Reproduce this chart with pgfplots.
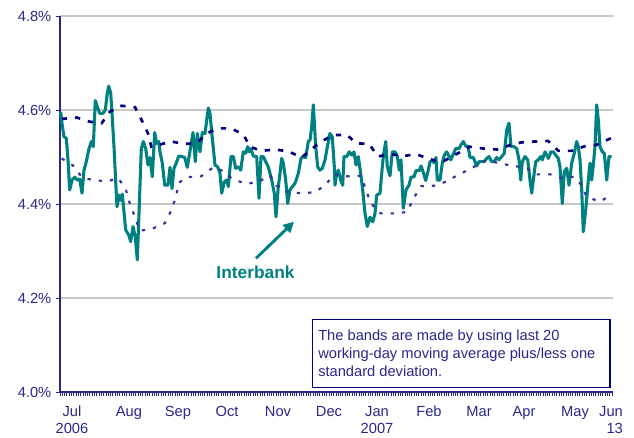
\documentclass[border=0pt]{standalone}
\usepackage{fontspec}
\setmainfont{Liberation Sans}
\usepackage{pgfplots}
\pgfplotsset{compat=1.18}
\usetikzlibrary{arrows.meta}
\definecolor{teal1}{RGB}{0,128,128}
\definecolor{navy1}{RGB}{0,0,128}
\definecolor{band2}{RGB}{51,51,153}
\definecolor{txt}{RGB}{40,40,140}
\definecolor{gridgray}{RGB}{200,200,200}
\newcommand{\mlab}[1]{\begin{tabular}{@{}c@{}}#1\end{tabular}}
\begin{document}
\begin{tikzpicture}
\path[use as bounding box] (-45pt,-33.75pt) rectangle (430.5pt,294pt);
\begin{axis}[
  scale only axis, width=414.75pt, height=282pt,
  xmin=0, xmax=553, ymin=4.0, ymax=4.8,
  clip=false,
  axis x line=bottom, axis y line=left,
  axis line style={txt, line width=1pt, -},
  tick align=outside,
  ytick={4.0,4.2,4.4,4.6,4.8},
  yticklabels={4.0\%,4.2\%,4.4\%,4.6\%,4.8\%},
  ymajorgrids, grid style={gridgray, line width=1.1pt},
  major tick length=3pt,
  tick style={txt, line width=0.7pt},
  y tick label style={font=\fontsize{11}{13}\selectfont, color=txt},
  xtick={0,2.3,...,553},
  xticklabels={},
  extra x ticks={12,69,118,167,218,269,317,369,419,464,515,551},
  extra x tick labels={\mlab{Jul\\[0pt]2006},\mlab{Aug},\mlab{Sep},\mlab{Oct},\mlab{Nov},\mlab{Dec},\mlab{Jan\\[0pt]2007},\mlab{Feb},\mlab{Mar},\mlab{Apr},\mlab{May},{\begin{tabular}{@{}r@{}}Jun\\[0pt]13\end{tabular}}},
  extra x tick style={major tick length=0pt, grid=none,
     tick label style={font=\fontsize{11}{13}\selectfont, color=txt, yshift=-5.5pt}},
]
\addplot[teal1, line width=2.3pt, line join=round] coordinates {
(0.7,4.596)(2,4.572)(4,4.543)(6.3,4.540)(8,4.494)(9.7,4.430)(12,4.451)(14.7,4.457)(17.3,4.451)(19.7,4.453)(22,4.423)(24,4.472)(26.3,4.490)(28.7,4.515)(31.3,4.533)(33.3,4.522)(35.3,4.620)(37.3,4.607)(39.7,4.593)(43,4.593)(45.3,4.600)(47.3,4.636)(48.7,4.651)(50.7,4.636)(52,4.593)(54,4.522)(55.3,4.465)(57,4.394)(59,4.419)(60.7,4.408)(62.3,4.421)(65.7,4.345)(68.7,4.334)(70.7,4.320)(73,4.352)(75.3,4.330)(77.3,4.281)(79,4.380)(81.3,4.518)(83.3,4.533)(85.7,4.518)(88,4.483)(90,4.499)(92.3,4.458)(94.7,4.552)(96.7,4.529)(98.7,4.533)(100,4.511)(102.3,4.487)(104.7,4.440)(108,4.440)(110,4.478)(112,4.433)(114,4.476)(116.3,4.487)(118.7,4.502)(122,4.501)(124.7,4.499)(127.3,4.478)(130.7,4.522)(133,4.552)(135.3,4.490)(137.3,4.550)(140,4.511)(142.3,4.552)(145,4.550)(148.3,4.604)(150,4.593)(152.3,4.540)(155,4.483)(157.7,4.479)(160,4.465)(161.7,4.423)(164.3,4.447)(166.7,4.451)(168.3,4.437)(171,4.501)(173.3,4.501)(175.7,4.476)(178.3,4.479)(180.7,4.472)(183.3,4.511)(185.7,4.508)(187.7,4.522)(189.3,4.511)(191,4.518)(193.3,4.502)(196.7,4.501)(199,4.412)(201,4.501)(203.3,4.501)(205.7,4.490)(208.3,4.479)(211.7,4.451)(214.3,4.423)(216,4.373)(218.3,4.437)(220,4.465)(221.7,4.497)(223.3,4.487)(225.7,4.451)(227.7,4.401)(230,4.430)(232.3,4.437)(235,4.444)(238.3,4.465)(241,4.497)(243.3,4.501)(245.7,4.499)(248.3,4.533)(250,4.536)(251.7,4.564)(253.3,4.611)(255.7,4.522)(257.7,4.479)(260,4.472)(262.3,4.476)(265,4.494)(267.7,4.526)(270,4.550)(272.3,4.543)(274.3,4.479)(275,4.440)(276.7,4.465)(278.3,4.472)(280.7,4.451)(282.7,4.440)(284,4.501)(286.7,4.501)(289.3,4.511)(291.7,4.504)(294,4.511)(296,4.483)(298.3,4.501)(300.7,4.465)(302.7,4.430)(305,4.380)(307.3,4.352)(310,4.372)(312.7,4.362)(315,4.380)(316.7,4.419)(320,4.423)(321.7,4.465)(323.3,4.501)(325.7,4.533)(327.3,4.479)(330,4.460)(332.3,4.511)(335,4.511)(337.3,4.502)(339.3,4.472)(341,4.494)(343.3,4.391)(346,4.430)(349,4.440)(351,4.457)(354,4.458)(356,4.471)(359.3,4.471)(361,4.481)(363.3,4.467)(365.7,4.450)(368.3,4.472)(370,4.490)(372.3,4.492)(374,4.488)(376,4.499)(377.3,4.451)(380,4.451)(382.3,4.487)(384.3,4.504)(386.7,4.511)(389,4.502)(390.7,4.494)(393.3,4.506)(395.7,4.518)(399,4.518)(401,4.526)(403.3,4.533)(405.7,4.523)(408,4.523)(410,4.499)(413.3,4.499)(416.7,4.481)(419,4.490)(424,4.490)(426.7,4.497)(429,4.501)(431.7,4.490)(434,4.490)(436.7,4.499)(439,4.494)(441.7,4.501)(444.3,4.508)(446.7,4.557)(449,4.572)(451,4.522)(454,4.522)(456.7,4.518)(459,4.494)(460.7,4.451)(462.3,4.490)(465,4.501)(467.7,4.494)(470,4.451)(471.7,4.423)(473.3,4.451)(475.7,4.490)(478.3,4.494)(480.7,4.501)(482.3,4.494)(485,4.511)(486.7,4.504)(488.3,4.497)(491,4.511)(493.3,4.511)(495.7,4.504)(498.3,4.497)(500,4.479)(502.3,4.401)(504.3,4.469)(506.7,4.476)(509,4.440)(511.7,4.487)(514.3,4.508)(516.7,4.533)(518.3,4.522)(520,4.494)(521.7,4.430)(523.3,4.341)(525.7,4.387)(528.3,4.451)(530,4.487)(531.7,4.451)(533.3,4.483)(535,4.522)(536.7,4.611)(538.3,4.579)(540,4.522)(542.3,4.511)(544.3,4.508)(546.7,4.451)(549,4.501)(551.7,4.501)
};
\addplot[navy1, line width=2pt, dash pattern=on 4pt off 6pt] coordinates {
(1.7,4.581)(16.7,4.584)(30,4.575)(41.7,4.572)(49.7,4.596)(61.5,4.609)(75,4.606)(81.5,4.579)(88,4.550)(91.3,4.522)(99,4.526)(111.5,4.533)(123,4.528)(136.5,4.529)(146.7,4.550)(157.7,4.561)(171,4.561)(183.3,4.548)(190,4.522)(201,4.513)(215,4.516)(228.3,4.512)(241.7,4.499)(251.7,4.517)(260,4.531)(273,4.547)(287,4.547)(296.3,4.529)(309.3,4.528)(317.5,4.501)(330,4.506)(343.3,4.502)(356.3,4.506)(369,4.496)(381.7,4.489)(396.3,4.506)(409.5,4.522)(423.3,4.518)(437,4.516)(448.3,4.524)(461.3,4.531)(474.7,4.533)(488.3,4.534)(498.3,4.513)(511.7,4.513)(526.3,4.524)(536.7,4.526)(546.7,4.536)(551,4.540)
};
\addplot[band2, line width=1.6pt, dash pattern=on 2.5pt off 6pt] coordinates {
(1.7,4.497)(13,4.482)(22.3,4.456)(35.2,4.450)(48.5,4.449)(58.2,4.455)(65.7,4.432)(69.8,4.401)(74.8,4.373)(79.8,4.343)(92.8,4.348)(104.8,4.359)(111.5,4.387)(116.5,4.419)(118.2,4.444)(126.5,4.457)(141.3,4.459)(153.3,4.478)(161.3,4.472)(173.3,4.452)(186.7,4.443)(198.3,4.447)(210,4.461)(216.7,4.439)(228,4.425)(241.7,4.423)(255,4.425)(265,4.440)(274.5,4.463)(287,4.459)(300.8,4.460)(305.5,4.433)(310.7,4.402)(320.5,4.380)(334.5,4.380)(347,4.383)(353.3,4.411)(361,4.438)(374.5,4.439)(385.3,4.447)(398.3,4.462)(412.3,4.477)(424,4.491)(438.3,4.488)(451.7,4.481)(465,4.478)(477.5,4.463)(490.3,4.463)(502,4.455)(513.7,4.458)(521.7,4.440)(526.7,4.415)(540,4.405)(550.7,4.419)
};
\draw[teal1, line width=2.2pt, -{Triangle[length=8pt,width=8pt]}] (axis cs:196,4.2845) -- (axis cs:234,4.3623);
\node[teal1, font=\fontsize{13}{15}\selectfont\bfseries] at (axis cs:195.5,4.2553) {Interbank};
\draw[navy1, line width=1.1pt, fill=white] (axis cs:252.7,4.0100) rectangle (axis cs:550,4.1547);
\node[anchor=base west, txt, font=\fontsize{11}{13}\selectfont, inner sep=0pt] at (axis cs:258,4.1106) {The bands are made by using last 20};
\node[anchor=base west, txt, font=\fontsize{11}{13}\selectfont, inner sep=0pt] at (axis cs:258,4.0717) {working-day moving average plus/less one};
\node[anchor=base west, txt, font=\fontsize{11}{13}\selectfont, inner sep=0pt] at (axis cs:258,4.0325) {standard deviation.};
\end{axis}
\end{tikzpicture}
\end{document}
